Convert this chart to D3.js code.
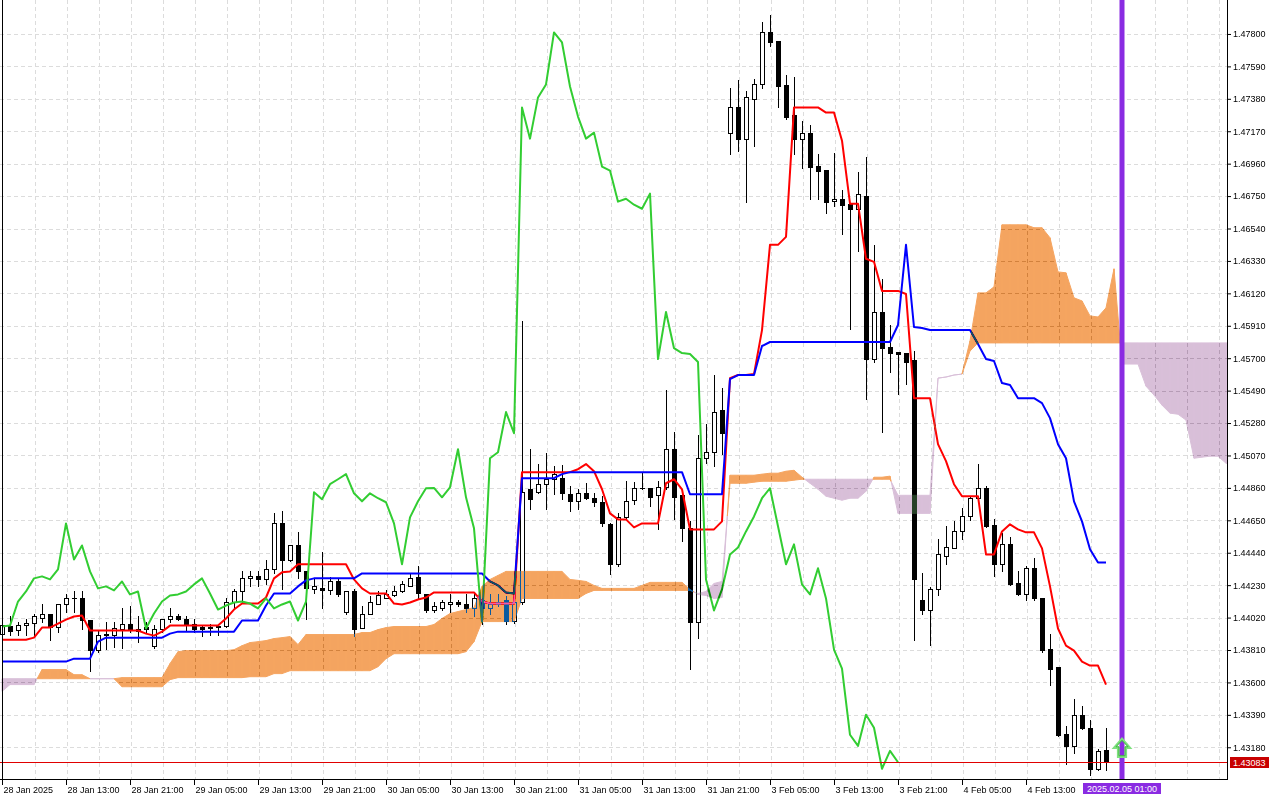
<!DOCTYPE html>
<html>
<head>
<meta charset="utf-8">
<script src="https://cdn.jsdelivr.net/npm/d3@7"></script>
<style>
body{margin:0;background:#fff}
svg{display:block;font-family:"Liberation Sans",Arial,sans-serif}
</style>
</head>
<body>
<svg id="chart" width="1280" height="800"></svg>
<script>
// hourly bars, 28 Jan 05:00 .. 4 Feb 23:00 (index = bar number)
var open = [1.43916,1.43968,1.43942,1.43975,1.43988,1.44020,1.44040,1.43962,1.44105,1.44144,
1.44150,1.44007,1.43812,1.43910,1.43910,1.43949,1.43981,1.43936,1.43962,1.43838,
1.43949,1.44014,1.44033,1.44014,1.43981,1.43962,1.43955,1.43962,1.43968,1.44124,
1.44189,1.44274,1.44287,1.44267,1.44332,1.44630,1.44390,1.44487,1.44319,1.44202,
1.44209,1.44196,1.44254,1.44059,1.44189,1.43955,1.44046,1.44111,1.44150,1.44163,
1.44189,1.44222,1.44280,1.44170,1.44066,1.44085,1.44105,1.44124,1.44111,1.44079,
1.44137,1.44079,1.44105,1.44131,1.44001,1.44124,1.44851,1.44832,1.44884,1.44916,
1.44923,1.44819,1.44773,1.44825,1.44793,1.44767,1.44624,1.44365,1.44669,1.44780,
1.44858,1.44858,1.44812,1.44864,1.45110,1.44812,1.44598,1.43994,1.45052,1.45091,
1.45364,1.47161,1.47324,1.47122,1.47382,1.47473,1.47810,1.47752,1.47467,1.47272,
1.47122,1.47161,1.46948,1.46922,1.46720,1.46733,1.46701,1.46668,1.46753,1.45694,
1.45999,1.45772,1.45740,1.45733,1.45688,1.44131,1.44066,1.44202,1.44422,1.44468,
1.44578,1.44675,1.44793,1.44858,1.44617,1.44365,1.44494,1.44241,1.44170,1.44339,
1.44150,1.43819,1.43702,1.43267,1.43189,1.43391,1.43306,1.43041,1.43163];
var high = [1.43994,1.44033,1.43994,1.44014,1.44046,1.44105,1.44040,1.44105,1.44170,1.44189,
1.44189,1.44007,1.43942,1.43994,1.43994,1.44079,1.44098,1.44027,1.43994,1.43975,
1.44014,1.44079,1.44046,1.44033,1.44014,1.43975,1.43981,1.43981,1.44144,1.44202,
1.44319,1.44319,1.44319,1.44390,1.44695,1.44708,1.44474,1.44572,1.44319,1.44274,
1.44442,1.44280,1.44267,1.44189,1.44202,1.44092,1.44157,1.44189,1.44196,1.44222,
1.44254,1.44300,1.44352,1.44170,1.44124,1.44137,1.44170,1.44137,1.44170,1.44170,
1.44150,1.44170,1.44170,1.44157,1.44137,1.45941,1.45110,1.45014,1.45084,1.45001,
1.45007,1.44871,1.44851,1.44890,1.44825,1.44806,1.44630,1.44695,1.44903,1.44897,
1.44955,1.44858,1.44903,1.45494,1.45221,1.44838,1.44643,1.45201,1.45273,1.45591,
1.45507,1.47447,1.47499,1.47428,1.47506,1.47875,1.47921,1.47752,1.47532,1.47519,
1.47239,1.47213,1.47025,1.46922,1.47031,1.46792,1.46701,1.46909,1.47000,1.46434,
1.46214,1.45915,1.45740,1.45733,1.45746,1.44306,1.44215,1.44526,1.44611,1.44643,
1.44727,1.44799,1.45014,1.44871,1.44656,1.44565,1.44539,1.44319,1.44352,1.44403,
1.44150,1.43916,1.43702,1.43319,1.43494,1.43449,1.43358,1.43169,1.43306];
var low = [1.43903,1.43910,1.43910,1.43910,1.43910,1.43994,1.43877,1.43929,1.44059,1.44059,
1.43949,1.43677,1.43799,1.43819,1.43832,1.43825,1.43929,1.43864,1.43929,1.43825,
1.43929,1.43994,1.44007,1.43942,1.43929,1.43903,1.43910,1.43910,1.43962,1.44079,
1.44124,1.44222,1.44222,1.44235,1.44306,1.44202,1.44384,1.44274,1.44014,1.44176,
1.44085,1.44170,1.44157,1.44046,1.43903,1.43955,1.44046,1.44105,1.44144,1.44157,
1.44183,1.44222,1.44144,1.44059,1.44053,1.44072,1.44053,1.44092,1.44059,1.44027,
1.43981,1.44040,1.44092,1.43981,1.43988,1.44111,1.44721,1.44825,1.44721,1.44819,
1.44786,1.44708,1.44721,1.44786,1.44741,1.44611,1.44300,1.44352,1.44656,1.44754,
1.44851,1.44741,1.44591,1.44851,1.44656,1.44513,1.43690,1.43890,1.45020,1.45001,
1.45078,1.47025,1.47044,1.46714,1.47077,1.47447,1.47719,1.47330,1.47252,1.47025,
1.46935,1.46733,1.46733,1.46642,1.46688,1.46506,1.45889,1.46395,1.45435,1.45675,
1.45221,1.45610,1.45467,1.45532,1.43877,1.44040,1.43845,1.44163,1.44365,1.44468,
1.44526,1.44650,1.44793,1.44604,1.44287,1.44319,1.44228,1.44163,1.44137,1.44137,
1.43799,1.43586,1.43254,1.43073,1.43144,1.43300,1.43001,1.43034,1.43034];
var close = [1.43975,1.43936,1.43975,1.43988,1.44027,1.44040,1.43962,1.44105,1.44144,1.44150,
1.44007,1.43812,1.43910,1.43916,1.43955,1.43981,1.43942,1.43949,1.43949,1.43949,
1.44014,1.44033,1.44014,1.43981,1.43949,1.43949,1.43962,1.43968,1.44124,1.44189,
1.44274,1.44287,1.44267,1.44332,1.44630,1.44396,1.44487,1.44319,1.44209,1.44222,
1.44196,1.44254,1.44170,1.44189,1.43949,1.44046,1.44124,1.44163,1.44170,1.44189,
1.44235,1.44274,1.44176,1.44072,1.44098,1.44118,1.44124,1.44111,1.44079,1.44144,
1.44079,1.44105,1.44124,1.44001,1.44124,1.44832,1.44786,1.44884,1.44916,1.44949,
1.44825,1.44773,1.44825,1.44793,1.44767,1.44630,1.44365,1.44669,1.44773,1.44858,
1.44860,1.44799,1.44864,1.45110,1.44799,1.44598,1.43994,1.45052,1.45091,1.45351,
1.45214,1.47324,1.47122,1.47389,1.47473,1.47810,1.47745,1.47460,1.47265,1.47122,
1.47161,1.46941,1.46915,1.46714,1.46733,1.46694,1.46668,1.46766,1.45694,1.45999,
1.45765,1.45733,1.45727,1.45675,1.44267,1.44066,1.44202,1.44429,1.44474,1.44578,
1.44675,1.44793,1.44858,1.44611,1.44365,1.44494,1.44235,1.44170,1.44339,1.44144,
1.43812,1.43690,1.43261,1.43189,1.43391,1.43306,1.43041,1.43157,1.43083];

// Ichimoku lines (one value per bar)
var tenkan = [1.43877,1.43877,1.43877,1.43877,1.43890,1.43955,1.43955,1.43981,1.44007,1.44027,
1.44033,1.43936,1.43936,1.43936,1.43936,1.43936,1.43936,1.43936,1.43916,1.43903,
1.43929,1.43968,1.43968,1.43968,1.43968,1.43968,1.43968,1.43968,1.44014,1.44072,
1.44111,1.44111,1.44111,1.44150,1.44274,1.44313,1.44319,1.44365,1.44365,1.44365,
1.44365,1.44365,1.44365,1.44365,1.44267,1.44209,1.44176,1.44176,1.44176,1.44111,
1.44105,1.44118,1.44137,1.44150,1.44183,1.44183,1.44183,1.44183,1.44183,1.44183,
1.44124,1.44111,1.44111,1.44111,1.44111,1.44962,1.44962,1.44962,1.44962,1.44962,
1.44962,1.44962,1.44981,1.45014,1.44968,1.44851,1.44695,1.44656,1.44656,1.44604,
1.44630,1.44630,1.44630,1.44890,1.44916,1.44851,1.44591,1.44591,1.44591,1.44591,
1.44643,1.45571,1.45591,1.45591,1.45597,1.45882,1.46434,1.46434,1.46486,1.47324,
1.47324,1.47324,1.47324,1.47291,1.47291,1.47109,1.46701,1.46701,1.46344,1.46324,
1.46136,1.46136,1.46136,1.46116,1.45441,1.45441,1.45441,1.45143,1.45033,1.44884,
1.44806,1.44806,1.44806,1.44429,1.44429,1.44578,1.44624,1.44591,1.44572,1.44572,
1.44468,1.44222,1.43949,1.43838,1.43806,1.43735,1.43709,1.43709,1.43586];
var kijun = [1.43735,1.43735,1.43735,1.43735,1.43735,1.43735,1.43735,1.43735,1.43735,1.43754,
1.43754,1.43754,1.43864,1.43890,1.43890,1.43890,1.43890,1.43890,1.43890,1.43890,
1.43890,1.43916,1.43929,1.43929,1.43929,1.43929,1.43929,1.43929,1.43929,1.43929,
1.44001,1.44001,1.44001,1.44098,1.44176,1.44176,1.44176,1.44222,1.44261,1.44274,
1.44274,1.44274,1.44274,1.44274,1.44274,1.44306,1.44306,1.44306,1.44306,1.44306,
1.44306,1.44306,1.44306,1.44306,1.44306,1.44306,1.44306,1.44306,1.44306,1.44306,
1.44306,1.44254,1.44228,1.44183,1.44176,1.44923,1.44923,1.44923,1.44923,1.44923,
1.44949,1.44962,1.44962,1.44962,1.44962,1.44962,1.44962,1.44962,1.44962,1.44962,
1.44962,1.44962,1.44962,1.44962,1.44962,1.44962,1.44819,1.44819,1.44819,1.44819,
1.44819,1.45565,1.45591,1.45591,1.45591,1.45779,1.45805,1.45805,1.45805,1.45805,
1.45805,1.45805,1.45805,1.45805,1.45805,1.45805,1.45805,1.45805,1.45805,1.45805,
1.45805,1.45805,1.45915,1.46434,1.45902,1.45896,1.45883,1.45883,1.45883,1.45883,
1.45883,1.45883,1.45792,1.45695,1.45682,1.45539,1.45526,1.45441,1.45441,1.45441,
1.45409,1.45312,1.45143,1.45052,1.44773,1.44643,1.44462,1.44377,1.44377];
// Senkou spans, already displaced 26 bars ahead (bars 0..154)
var spanA = [1.43542,1.43586,1.43586,1.43586,1.43586,1.43683,1.43683,1.43683,1.43683,1.43650,
1.43650,1.43624,1.43624,1.43624,1.43624,1.43631,1.43631,1.43631,1.43631,1.43631,
1.43631,1.43722,1.43799,1.43806,1.43806,1.43806,1.43806,1.43806,1.43806,1.43812,
1.43838,1.43858,1.43864,1.43871,1.43884,1.43890,1.43897,1.43845,1.43910,1.43910,
1.43910,1.43910,1.43910,1.43910,1.43910,1.43923,1.43923,1.43942,1.43955,1.43962,
1.43962,1.43962,1.43962,1.43962,1.43975,1.44014,1.44046,1.44059,1.44072,1.44085,
1.44222,1.44267,1.44293,1.44319,1.44319,1.44319,1.44319,1.44319,1.44319,1.44319,
1.44319,1.44267,1.44261,1.44254,1.44228,1.44209,1.44209,1.44209,1.44209,1.44209,
1.44228,1.44248,1.44248,1.44248,1.44248,1.44248,1.44202,1.44170,1.44163,1.44144,
1.44150,1.44942,1.44942,1.44942,1.44942,1.44949,1.44955,1.44955,1.44968,1.44974,
1.44929,1.44890,1.44851,1.44806,1.44793,1.44780,1.44793,1.44793,1.44838,1.44929,
1.44929,1.44936,1.44695,1.44695,1.44695,1.44695,1.44695,1.45571,1.45578,1.45591,
1.45597,1.45812,1.46123,1.46123,1.46162,1.46564,1.46564,1.46564,1.46564,1.46545,
1.46545,1.46480,1.46259,1.46253,1.46091,1.46071,1.45974,1.45967,1.46026,1.46279,
1.45662,1.45662,1.45662,1.45519,1.45461,1.45396,1.45344,1.45337,1.45299,1.45052,
1.45059,1.45065,1.45065,1.45020,1.45001];
var spanB = [1.43624,1.43624,1.43624,1.43624,1.43624,1.43624,1.43624,1.43624,1.43624,1.43624,
1.43624,1.43624,1.43624,1.43624,1.43624,1.43572,1.43572,1.43572,1.43572,1.43572,
1.43572,1.43618,1.43631,1.43631,1.43631,1.43631,1.43631,1.43631,1.43631,1.43631,
1.43631,1.43637,1.43637,1.43637,1.43657,1.43657,1.43676,1.43676,1.43676,1.43676,
1.43676,1.43676,1.43676,1.43676,1.43676,1.43676,1.43676,1.43702,1.43754,1.43786,
1.43786,1.43786,1.43786,1.43786,1.43786,1.43786,1.43786,1.43786,1.43799,1.43864,
1.43994,1.43994,1.43994,1.43994,1.43994,1.44144,1.44144,1.44144,1.44144,1.44144,
1.44144,1.44144,1.44144,1.44176,1.44196,1.44196,1.44196,1.44196,1.44196,1.44196,
1.44196,1.44196,1.44196,1.44196,1.44196,1.44196,1.44196,1.44176,1.44189,1.44241,
1.44254,1.44890,1.44890,1.44890,1.44897,1.44903,1.44903,1.44903,1.44903,1.44910,
1.44916,1.44916,1.44916,1.44916,1.44916,1.44916,1.44916,1.44916,1.44916,1.44916,
1.44916,1.44916,1.44812,1.44812,1.44812,1.44812,1.44812,1.45571,1.45578,1.45591,
1.45597,1.45746,1.45799,1.45799,1.45799,1.45799,1.45799,1.45799,1.45799,1.45799,
1.45799,1.45799,1.45799,1.45799,1.45799,1.45799,1.45799,1.45799,1.45799,1.45799,
1.45799,1.45799,1.45799,1.45799,1.45799,1.45799,1.45799,1.45799,1.45799,1.45799,
1.45799,1.45799,1.45799,1.45799,1.45799];

var priceTicks = [1.47800,1.47590,1.47380,1.47170,1.46960,1.46750,1.46540,1.46330,1.46120,1.45910,
1.45700,1.45490,1.45280,1.45070,1.44860,1.44650,1.44440,1.44230,1.44020,1.43810,
1.43600,1.43390,1.43180];
var timeLabels = ["28 Jan 2025","28 Jan 13:00","28 Jan 21:00","29 Jan 05:00","29 Jan 13:00","29 Jan 21:00",
"30 Jan 05:00","30 Jan 13:00","30 Jan 21:00","31 Jan 05:00","31 Jan 13:00","31 Jan 21:00",
"3 Feb 05:00","3 Feb 13:00","3 Feb 21:00","4 Feb 05:00","4 Feb 13:00"];
var bidPrice = 1.43083;
var vlineBar = 140, vlineLabel = "2025.02.05 01:00";
var arrowBar = 140, arrowPrice = 1.43235;
var chikouShift = 26;

var plotW = 1227, plotH = 779;
var FONT = "Liberation Sans, Arial, sans-serif";
var svg = d3.select("#chart");
var x = d3.scaleLinear().domain([0, 153]).range([2, 1226]);
var y = d3.scaleLinear().domain([1.42968, 1.48020]).range([780, 0]);

svg.append("rect").attr("width", 1280).attr("height", 800).attr("fill", "#fff");
svg.append("defs").append("clipPath").attr("id", "plot")
  .append("rect").attr("width", plotW).attr("height", plotH);

// grid
var grid = svg.append("g").attr("stroke", "#dcdcdc").attr("stroke-dasharray", "4,3");
grid.selectAll(".gh").data(priceTicks).enter().append("line")
  .attr("x1", 0).attr("x2", plotW)
  .attr("y1", function(d){ return Math.round(y(d)) + 0.5; })
  .attr("y2", function(d){ return Math.round(y(d)) + 0.5; });
grid.selectAll(".gv").data(d3.range(4, 154, 4)).enter().append("line")
  .attr("y1", 0).attr("y2", plotH)
  .attr("x1", function(d){ return Math.round(x(d)) + 1.5; })
  .attr("x2", function(d){ return Math.round(x(d)) + 1.5; });

var plot = svg.append("g").attr("clip-path", "url(#plot)");
var bars = d3.range(open.length);

// candles
plot.selectAll(".wick").data(bars).enter().append("line")
  .attr("x1", function(i){ return Math.round(x(i)) + 0.5; })
  .attr("x2", function(i){ return Math.round(x(i)) + 0.5; })
  .attr("y1", function(i){ return Math.round(y(high[i])); })
  .attr("y2", function(i){ return Math.round(y(low[i])) + 1; })
  .attr("stroke", "#000");
plot.selectAll(".body").data(bars).enter().append("rect")
  .each(function(i){
    var c = Math.round(x(i));
    var t = Math.round(y(Math.max(open[i], close[i])));
    var b = Math.round(y(Math.min(open[i], close[i])));
    var r = d3.select(this);
    if (close[i] > open[i] && b - t >= 2) {
      r.attr("x", c - 1.5).attr("y", t + 0.5).attr("width", 4).attr("height", b - t)
       .attr("fill", "#fff").attr("stroke", "#000");
    } else {
      r.attr("x", c - 2).attr("y", t).attr("width", 5).attr("height", Math.max(b - t + 1, 1))
       .attr("fill", "#000");
    }
  });

// tenkan / kijun
var line = d3.line().x(function(d, i){ return x(i); }).y(function(d){ return y(d); });
plot.append("path").attr("d", line(tenkan)).attr("fill", "none")
  .attr("stroke", "#ff0000").attr("stroke-width", 2).attr("stroke-linejoin", "round");
plot.append("path").attr("d", line(kijun)).attr("fill", "none")
  .attr("stroke", "#0000ff").attr("stroke-width", 2).attr("stroke-linejoin", "round");

// kumo, painted like MT5 does (inverted colours over what is underneath)
var polys = [];
for (var i = 0; i < spanA.length - 1; i++) {
  var a0 = spanA[i], b0 = spanB[i], a1 = spanA[i + 1], b1 = spanB[i + 1];
  var d0 = a0 - b0, d1 = a1 - b1;
  if (d0 * d1 < 0) {
    var t = d0 / (d0 - d1);
    var xm = x(i) + t * (x(i + 1) - x(i)), ym = y(a0 + t * (a1 - a0));
    polys.push({ p: [[x(i), y(a0)], [xm, ym], [x(i), y(b0)]], up: d0 > 0 });
    polys.push({ p: [[xm, ym], [x(i + 1), y(a1)], [x(i + 1), y(b1)]], up: d1 > 0 });
  } else {
    polys.push({ p: [[x(i), y(a0)], [x(i + 1), y(a1)], [x(i + 1), y(b1)], [x(i), y(b0)]], up: d0 + d1 > 0 });
  }
}
var kumo = svg.append("g").attr("clip-path", "url(#plot)").style("mix-blend-mode", "difference");
kumo.selectAll("path").data(polys).enter().append("path")
  .attr("d", function(d){ return "M" + d.p.join("L") + "Z"; })
  .attr("fill", function(d){ return d.up ? "rgb(11,91,159)" : "rgb(39,64,39)"; })
  .attr("stroke", function(d){ return d.up ? "rgb(11,91,159)" : "rgb(39,64,39)"; })
  .attr("stroke-width", 1).attr("stroke-linejoin", "round");

// chikou: closes drawn 26 bars back
plot.append("path").attr("d", line(close.slice(chikouShift))).attr("fill", "none")
  .attr("stroke", "#32cd32").attr("stroke-width", 2).attr("stroke-linejoin", "round");

// bid line
var by = Math.round(y(bidPrice)) + 0.5;
svg.append("line").attr("x1", 0).attr("x2", plotW).attr("y1", by).attr("y2", by)
  .attr("stroke", "#e00000");

// vertical line + arrow
var vx = Math.round(x(vlineBar));
svg.append("line").attr("x1", vx).attr("x2", vx).attr("y1", 0).attr("y2", plotH)
  .attr("stroke", "#8a2be2").attr("stroke-width", 5);
var ax = x(arrowBar), ay = y(arrowPrice);
svg.append("path")
  .attr("d", "M0,0L8,9L4,9L4,18L-4,18L-4,9L-8,9Z")
  .attr("transform", "translate(" + ax + "," + ay + ")")
  .attr("fill", "none").attr("stroke", "#7fe07f").attr("stroke-width", 2.2);
svg.append("path")
  .attr("d", "M0,1.5L6,8L3,8L3,17L-3,17L-3,8L-6,8Z")
  .attr("transform", "translate(" + ax + "," + ay + ")")
  .attr("fill", "none").attr("stroke", "#3cb83c").attr("stroke-width", 1);

// frame
svg.append("line").attr("x1", 2.5).attr("x2", 2.5).attr("y1", 0).attr("y2", plotH).attr("stroke", "#000");
svg.append("line").attr("x1", 0).attr("x2", plotW + 1).attr("y1", plotH + 0.5).attr("y2", plotH + 0.5).attr("stroke", "#000");
svg.append("line").attr("x1", plotW + 0.5).attr("x2", plotW + 0.5).attr("y1", 0).attr("y2", plotH + 1).attr("stroke", "#000");

// price axis
var yAxis = svg.append("g").attr("transform", "translate(" + plotW + ",0)")
  .call(d3.axisRight(y).tickValues(priceTicks).tickFormat(d3.format(".5f")).tickSize(4).tickSizeOuter(0));
yAxis.select(".domain").remove();
yAxis.selectAll("text").attr("x", 6).attr("font-size", 9).attr("font-family", FONT).attr("fill", "#000");
yAxis.selectAll("line").attr("stroke", "#000");

// time axis
var xAxis = svg.append("g").attr("transform", "translate(0," + (plotH + 1) + ")")
  .call(d3.axisBottom(x).tickValues(d3.range(0, timeLabels.length * 8, 8))
    .tickFormat(function(d, i){ return timeLabels[i]; }).tickSize(5).tickSizeOuter(0));
xAxis.select(".domain").remove();
xAxis.selectAll("text").attr("text-anchor", "start").attr("x", 1).attr("y", 7)
  .attr("font-size", 9).attr("font-family", FONT).attr("fill", "#000");
xAxis.selectAll("line").attr("stroke", "#000");

// bid label
svg.append("rect").attr("x", plotW + 3).attr("y", by - 5.5).attr("width", 39).attr("height", 11).attr("fill", "#c80000");
svg.append("text").attr("x", plotW + 6).attr("y", by + 3.5).attr("font-size", 9).attr("font-family", FONT)
  .attr("fill", "#fff").text(d3.format(".5f")(bidPrice));

// vertical line label on time axis
svg.append("rect").attr("x", vx - 39).attr("y", plotH + 4).attr("width", 78).attr("height", 11).attr("fill", "#8a2be2");
svg.append("text").attr("x", vx).attr("y", plotH + 13).attr("text-anchor", "middle")
  .attr("font-size", 9).attr("font-family", FONT).attr("fill", "#fff").text(vlineLabel);
</script>
</body>
</html>
